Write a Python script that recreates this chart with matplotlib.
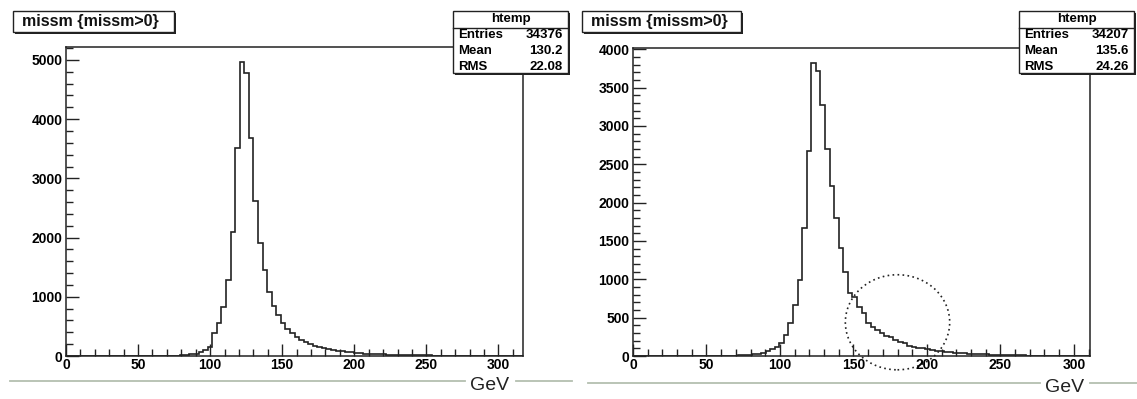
import numpy as np
import matplotlib.pyplot as plt
from matplotlib.patches import Rectangle, Ellipse
from matplotlib.lines import Line2D

plt.rcParams['font.family'] = ['Liberation Sans', 'DejaVu Sans']

W, H = 1137, 399

# histogram settings (ROOT htemp, 100 bins)
n_bins = 100
left_range = (0.0, 317.0)
right_range = (0.0, 311.0)
first_bin = 18

# bin contents starting at first_bin
left_counts = [1, 2, 2, 3, 4, 5, 8, 12, 18, 27, 40, 60, 95, 160, 385, 550, 830,
               1280, 2100, 3510, 4970, 4775, 3680, 2610, 1900, 1450, 1080, 850,
               690, 560, 460, 380, 320, 270, 230, 200, 175, 150, 130, 115, 100,
               90, 80, 70, 62, 55, 48, 42, 38, 34, 30, 27, 24, 22, 20, 18, 16,
               14, 12, 11, 10, 9, 8, 7, 6, 5, 5, 4, 3, 2]
right_counts = [2, 3, 4, 5, 6, 8, 10, 15, 22, 30, 45, 65, 92, 122, 174, 275,
                435, 667, 993, 1669, 2670, 3826, 3717, 3268, 2702, 2213, 1800,
                1408, 1102, 820, 775, 645, 558, 427, 383, 340, 305, 265, 244,
                209, 179, 166, 135, 122, 109, 100, 90, 80, 70, 62, 55, 50, 45,
                40, 36, 32, 28, 25, 22, 20, 18, 16, 14, 12, 10, 9, 8, 7, 6, 5]

title = "missm {missm>0}"
stats_names = ["Entries", "Mean", "RMS"]
left_stats = ["34376", "130.2", "22.08"]
right_stats = ["34207", "135.6", "24.26"]
x_unit = "GeV"


def fx(px):
    return px / W


def fy(py):
    return 1 - py / H


def root_box(fig, x0, y0, x1, y1):
    # box with ROOT-like drop shadow, pixel coords from top-left
    fig.patches.append(Rectangle((fx(x0 + 2), fy(y1 + 2)), fx(x1 - x0), (y1 - y0) / H,
                                 transform=fig.transFigure, facecolor='#222222',
                                 edgecolor='none', zorder=5))
    fig.patches.append(Rectangle((fx(x0), fy(y1)), fx(x1 - x0), (y1 - y0) / H,
                                 transform=fig.transFigure, facecolor='white',
                                 edgecolor='#222222', linewidth=1.0, zorder=6))


def histo_panel(fig, rect, counts, xrange_, major_y, minor_y):
    ax = fig.add_axes(rect)
    edges = np.linspace(xrange_[0], xrange_[1], n_bins + 1)
    vals = np.zeros(n_bins)
    vals[first_bin:first_bin + len(counts)] = counts
    ax.stairs(vals, edges, color='#222222', linewidth=1.2)
    ax.set_xlim(xrange_)
    ax.set_ylim(0, 1.05 * max(counts))
    ax.set_xticks(np.arange(0, 301, 50))
    ax.set_xticks(np.arange(0, xrange_[1], 10), minor=True)
    ax.set_yticks(np.arange(0, ax.get_ylim()[1], major_y))
    ax.set_yticks(np.arange(0, ax.get_ylim()[1], minor_y), minor=True)
    ax.tick_params(which='major', direction='in', length=9, width=1.0,
                   labelsize=10, color='#222222')
    ax.tick_params(which='minor', direction='in', length=5, width=1.0,
                   color='#222222')
    ax.tick_params(axis='x', pad=1.5)
    ax.tick_params(axis='y', pad=2.5)
    for lab in ax.get_xticklabels() + ax.get_yticklabels():
        lab.set_fontweight('bold')
    for sp in ax.spines.values():
        sp.set_linewidth(1.1)
        sp.set_color('#222222')
    return ax


fig = plt.figure(figsize=(W / 100, H / 100), dpi=100)
fig.patch.set_facecolor('white')

ax_l = histo_panel(fig, [fx(66), fy(356), fx(523 - 66), (356 - 47) / H],
                   left_counts, left_range, 1000, 200)
ax_r = histo_panel(fig, [fx(633), fy(356), fx(1090 - 633), (356 - 48) / H],
                   right_counts, right_range, 500, 100)

# dotted circle marking the tail in the right panel
ax_r.add_patch(Ellipse((180, 440), 71, 1240, fill=False, linestyle=(0, (1, 2)),
                       linewidth=1.2, edgecolor='#222222', clip_on=False))

# title boxes
for x0, x1 in [(13, 174), (582, 741)]:
    root_box(fig, x0, 11, x1, 32)
    fig.text(fx(x0 + 9), fy(21.5), title, fontsize=11.5, fontweight='bold',
             va='center', ha='left', color='#111111', zorder=7)

# stats boxes
for (x0, x1), vals in [((453, 568), left_stats), ((1019, 1134), right_stats)]:
    root_box(fig, x0, 11, x1, 73)
    fig.text(fx((x0 + x1) / 2), fy(19), "htemp", fontsize=9.5, fontweight='bold',
             ha='center', va='center', zorder=7)
    fig.lines.append(Line2D([fx(x0), fx(x1)], [fy(27.5), fy(27.5)],
                            transform=fig.transFigure, color='#222222',
                            linewidth=1.0, zorder=7))
    for i, (name, v) in enumerate(zip(stats_names, vals)):
        yy = fy(35 + 16 * i)
        fig.text(fx(x0 + 5), yy, name, fontsize=9.5, fontweight='bold',
                 ha='left', va='center', zorder=7)
        fig.text(fx(x1 - 5), yy, v, fontsize=9.5, fontweight='bold',
                 ha='right', va='center', zorder=7)

# page lines and unit labels under each panel
page_col = '#b4bfb0'
for xa, xb, yl in [(10, 465, 381), (516, 572, 381), (588, 1040, 383), (1090, 1137, 383)]:
    fig.lines.append(Line2D([fx(xa), fx(xb)], [fy(yl), fy(yl)],
                            transform=fig.transFigure, color=page_col, linewidth=1.3))
fig.text(fx(490), fy(385), x_unit, fontsize=14, ha='center', va='center',
         color='#222222')
fig.text(fx(1065), fy(388), x_unit, fontsize=14, ha='center', va='center',
         color='#222222')

fig.savefig('out.png', dpi=100)
